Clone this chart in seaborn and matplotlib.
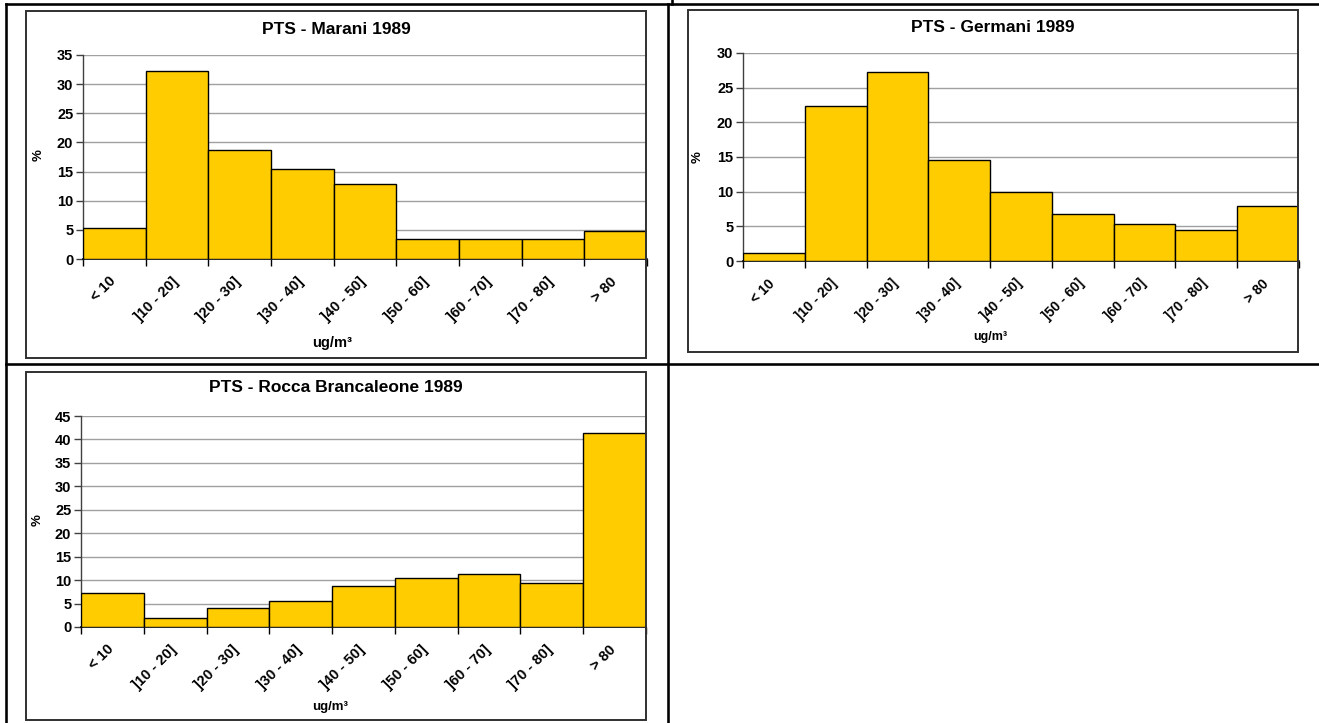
import matplotlib
matplotlib.use("Agg")
import matplotlib.pyplot as plt
import matplotlib.transforms as mtransforms
from matplotlib.patches import Rectangle
from matplotlib.lines import Line2D
import seaborn as sns
import pandas as pd

sns.set_theme(style="white")
plt.rcParams['font.family'] = ['Liberation Sans', 'DejaVu Sans']
plt.rcParams['font.weight'] = 'bold'
plt.rcParams['text.color'] = 'black'
plt.rcParams['xtick.labelcolor'] = 'black'
plt.rcParams['ytick.labelcolor'] = 'black'

categories = ["< 10", "]10 - 20]", "]20 - 30]", "]30 - 40]", "]40 - 50]",
              "]50 - 60]", "]60 - 70]", "]70 - 80]", "> 80"]
marani = [5.3, 32.2, 18.7, 15.4, 12.8, 3.4, 3.4, 3.4, 4.8]
germani = [1.2, 22.4, 27.3, 14.5, 10.0, 6.8, 5.3, 4.4, 8.0]
rocca = [7.3, 2.0, 4.0, 5.5, 8.7, 10.4, 11.2, 9.4, 41.4]

titles = ["PTS - Marani 1989", "PTS - Germani 1989", "PTS - Rocca Brancaleone 1989"]
ymaxes = [35, 30, 45]

W, H = 1319, 723
fig = plt.figure(figsize=(W / 100, H / 100), dpi=100)
fig.patch.set_facecolor("white")


def rect(l, t, r, b):
    return [l / W, 1 - b / H, (r - l) / W, (b - t) / H]


def fx(x):
    return x / W


def fy(y):
    return 1 - y / H


# table lines
tbl_lw = 2.6 * 72 / 100
for (x0, y0, x1, y1) in [(6, 4, 1319, 4), (6, 364, 1319, 364),
                         (6, 4, 6, 723), (668, 4, 668, 723), (672, 0, 672, 4)]:
    fig.add_artist(Line2D([fx(x0), fx(x1)], [fy(y0), fy(y1)],
                          color="black", lw=tbl_lw, solid_capstyle="projecting"))

specs = [
    dict(vals=marani, title=titles[0], ymax=ymaxes[0],
         ax=(83, 55, 647, 259), frame=(26, 11, 646, 358),
         tpos=(336, 29), ylab=(39, 155), xlab=(332, 343), tfs=12.5, fs=10.5, xfs=10.5, lfs=10.5),
    dict(vals=germani, title=titles[1], ymax=ymaxes[1],
         ax=(743, 53, 1299, 261), frame=(688, 10, 1298, 352),
         tpos=(993, 28), ylab=(698, 157), xlab=(990, 337), tfs=12.5, fs=10.5, xfs=10, lfs=9),
    dict(vals=rocca, title=titles[2], ymax=ymaxes[2],
         ax=(81, 416, 646, 627), frame=(26, 372, 646, 720),
         tpos=(336, 388), ylab=(38, 520), xlab=(330, 707), tfs=12.5, fs=10.5, xfs=10.5, lfs=9.5),
]

for s in specs:
    # chart frame
    l, t, r, b = s["frame"]
    fig.add_artist(Rectangle((fx(l), fy(b)), (r - l) / W, (b - t) / H,
                             transform=fig.transFigure, fill=False,
                             edgecolor="#303030", lw=1.4))
    ax = fig.add_axes(rect(*s["ax"]))
    df = pd.DataFrame({"cat": categories, "pct": s["vals"]})
    sns.barplot(data=df, x="cat", y="pct", ax=ax, color="#FFCC00",
                saturation=1, width=1.0, edgecolor="black", linewidth=1.0,
                zorder=3)
    ax.set_xlim(-0.5, len(categories) - 0.5)
    ax.set_ylim(0, s["ymax"])
    ax.set_yticks(range(0, s["ymax"] + 1, 5))
    ax.yaxis.grid(True, color="#a0a0a0", lw=1.0, zorder=0)
    ax.set_axisbelow(True)
    ax.set_xlabel("")
    ax.set_ylabel("")
    for sp in ["top", "right"]:
        ax.spines[sp].set_visible(False)
    ax.spines["left"].set_color("#404040")
    ax.spines["left"].set_linewidth(1.0)
    ax.spines["bottom"].set_color("black")
    ax.spines["bottom"].set_linewidth(1.2)
    ax.tick_params(axis="y", which="major", left=True, length=5, width=1,
                   color="#404040", pad=2, labelsize=s["fs"], labelcolor="black")
    for lab in ax.get_yticklabels():
        lab.set_fontweight("bold")
    ax.set_xticks(range(len(categories)))
    ax.set_xticks([i - 0.5 for i in range(len(categories) + 1)], minor=True)
    ax.tick_params(axis="x", which="major", bottom=False, length=0, pad=11,
                   labelsize=s["xfs"], labelcolor="black")
    ax.tick_params(axis="x", which="minor", bottom=True, length=5, width=1,
                   color="black")
    ax.set_xticklabels(categories, rotation=45, ha="right",
                       rotation_mode="anchor", fontweight="bold")
    off = mtransforms.ScaledTranslation(-6 / 100, 0, fig.dpi_scale_trans)
    for lab in ax.get_xticklabels():
        lab.set_transform(lab.get_transform() + off)
    fig.text(fx(s["tpos"][0]), fy(s["tpos"][1]), s["title"], ha="center",
             va="center", fontsize=s["tfs"], fontweight="bold", color="black")
    fig.text(fx(s["ylab"][0]), fy(s["ylab"][1]), "%", ha="center",
             va="center", rotation=90, fontsize=9.5, fontweight="bold", color="black")
    fig.text(fx(s["xlab"][0]), fy(s["xlab"][1]), "ug/m³", ha="center",
             va="center", fontsize=s["lfs"], fontweight="bold", color="black")

fig.savefig("out.png", dpi=100, facecolor="white")
